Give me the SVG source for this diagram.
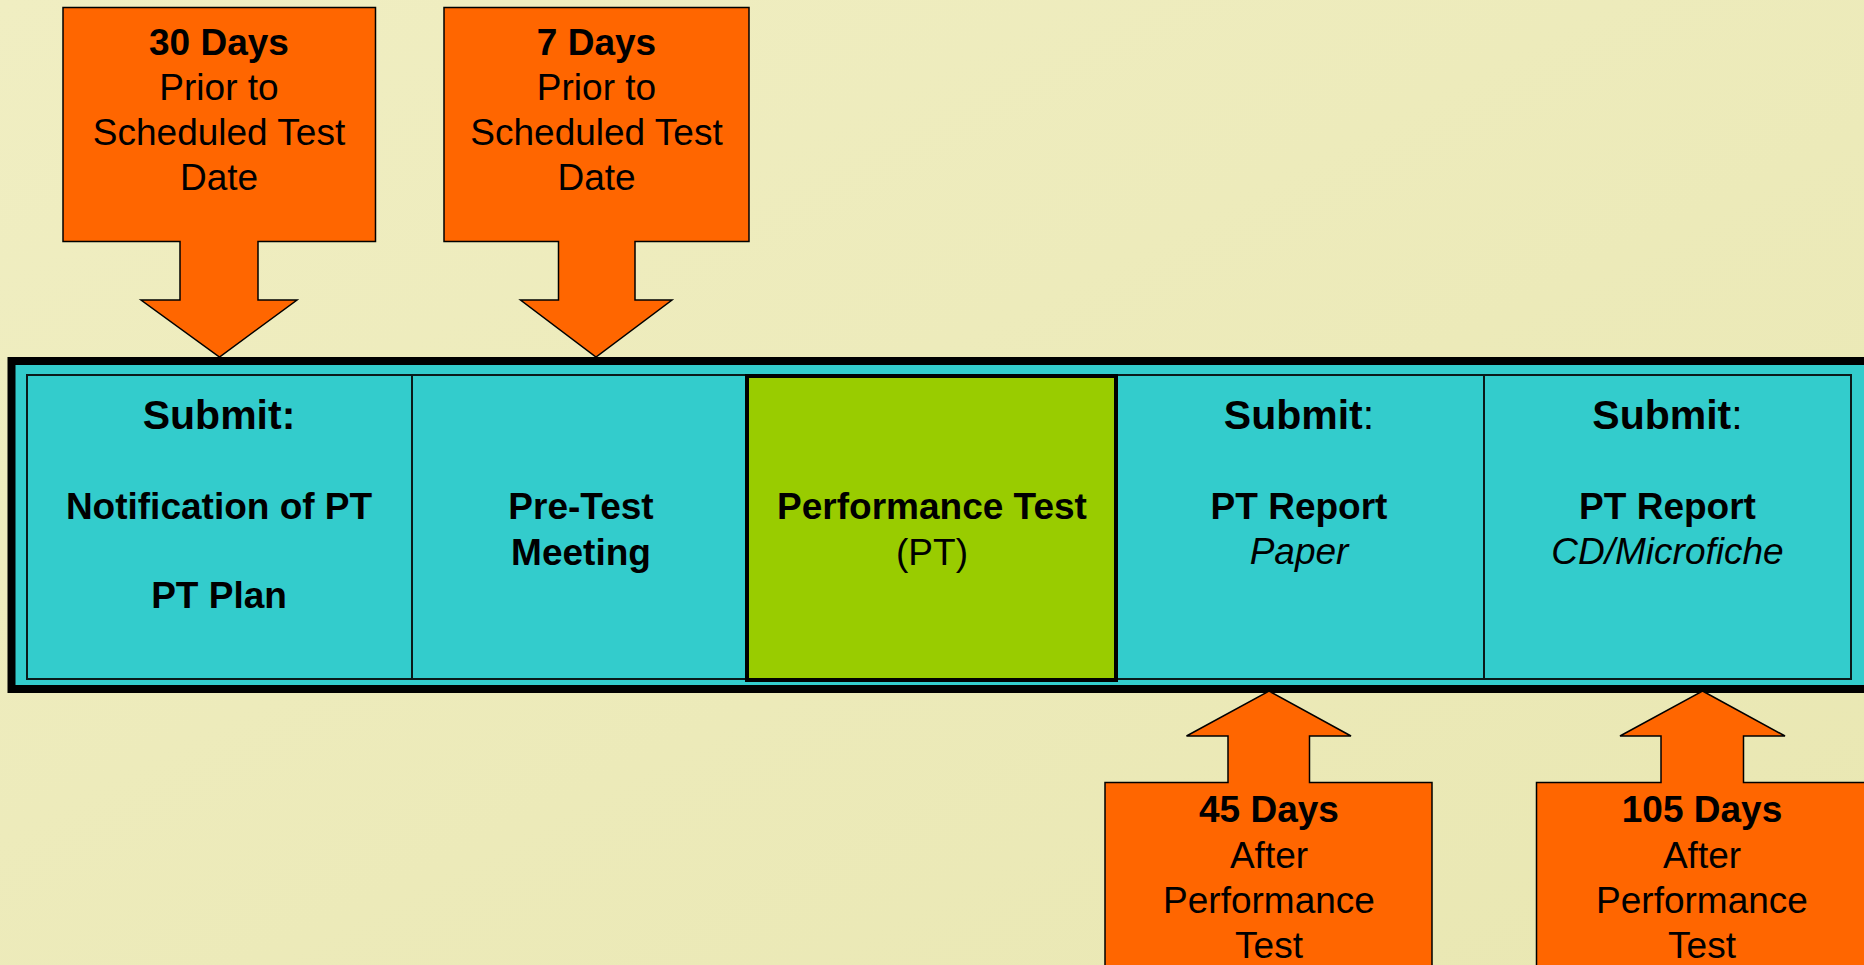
<svg xmlns="http://www.w3.org/2000/svg" width="1864" height="965" viewBox="0 0 1864 965">
<defs>
<linearGradient id="bg" x1="0" y1="0" x2="1" y2="1">
<stop offset="0" stop-color="#F0EEC2"/>
<stop offset="1" stop-color="#E9E7B2"/>
</linearGradient>
<style>
.arrow{fill:#FF6600;stroke:#000;stroke-width:1.5;stroke-linejoin:miter}
.cell{fill:#33CCCC;stroke:#0a1a1a;stroke-width:2}
.t{font-family:"Liberation Sans",Arial,sans-serif;font-size:37px;fill:#000;text-anchor:middle}
.b{font-weight:bold}
.i{font-style:italic}
.sub{font-size:41px}
</style>
</defs>
<rect x="0" y="0" width="1864" height="965" fill="url(#bg)"/>

<g id="timeline">
<rect x="11.5" y="361" width="1870" height="328" fill="#33CCCC" stroke="#000" stroke-width="8"/>
<rect class="cell" x="27" y="375" width="1824" height="304"/>
</g>

<g id="cell-notification">
<text class="t b sub" x="219" y="428.5">Submit:</text>
<text class="t b" x="219" y="519">Notification of PT</text>
<text class="t b" x="219" y="607.5">PT Plan</text>
</g>

<g id="cell-pretest">
<line x1="412" y1="375" x2="412" y2="679" stroke="#0a1a1a" stroke-width="2"/>
<text class="t b" x="581" y="519">Pre-Test</text>
<text class="t b" x="581" y="564.5">Meeting</text>
</g>

<g id="cell-performance">
<rect x="747" y="376" width="369" height="304" fill="#99CC00" stroke="#000" stroke-width="4"/>
<text class="t b" x="932" y="519">Performance Test</text>
<text class="t" x="932" y="564.5">(PT)</text>
</g>

<g id="cell-report-paper">
<text class="t sub" x="1299" y="428.5"><tspan class="b">Submit</tspan>:</text>
<text class="t b" x="1299" y="519">PT Report</text>
<text class="t i" x="1299" y="564">Paper</text>
</g>

<g id="cell-report-cd">
<line x1="1484" y1="375" x2="1484" y2="679" stroke="#0a1a1a" stroke-width="2"/>
<text class="t sub" x="1667.5" y="428.5"><tspan class="b">Submit</tspan>:</text>
<text class="t b" x="1667.5" y="519">PT Report</text>
<text class="t i" x="1667.5" y="564">CD/Microfiche</text>
</g>

<g id="connectors">
<g id="arrow-30days">
<path class="arrow" d="M63,7.5 H375.5 V241.5 H258 V300 H297 L219.5,357 L141,300 H180 V241.5 H63 Z"/>
<text class="t b" x="219" y="55">30 Days</text>
<text class="t" x="219" y="100">Prior to</text>
<text class="t" x="219" y="145">Scheduled Test</text>
<text class="t" x="219" y="190">Date</text>
</g>
<g id="arrow-7days">
<path class="arrow" d="M444,7.5 H749 V241.5 H635 V300 H672 L596,357 L520.5,300 H558.5 V241.5 H444 Z"/>
<text class="t b" x="596.5" y="55">7 Days</text>
<text class="t" x="596.5" y="100">Prior to</text>
<text class="t" x="596.5" y="145">Scheduled Test</text>
<text class="t" x="596.5" y="190">Date</text>
</g>
<g id="arrow-45days">
<path class="arrow" d="M1269,691 L1351,736 H1309.5 V782.5 H1432 V975 H1105 V782.5 H1228 V736 H1186.5 Z"/>
<text class="t b" x="1269" y="822">45 Days</text>
<text class="t" x="1269" y="867.5">After</text>
<text class="t" x="1269" y="912.5">Performance</text>
<text class="t" x="1269" y="957.5">Test</text>
</g>
<g id="arrow-105days">
<path class="arrow" d="M1702.5,691 L1785,736 H1743.5 V782.5 H1870 V975 H1536.5 V782.5 H1661 V736 H1620 Z"/>
<text class="t b" x="1702" y="822">105 Days</text>
<text class="t" x="1702" y="867.5">After</text>
<text class="t" x="1702" y="912.5">Performance</text>
<text class="t" x="1702" y="957.5">Test</text>
</g>
</g>
</svg>
